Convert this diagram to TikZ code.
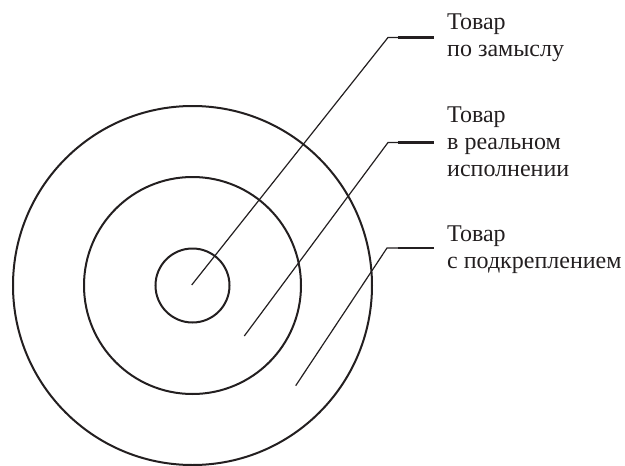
\documentclass[tikz,border=0pt]{standalone}
\usepackage{fontspec}
\setmainfont{Liberation Serif}
\definecolor{ink}{HTML}{231F20}
\begin{document}
\begin{tikzpicture}[x=1pt,y=-1pt,
  ring/.style={draw=ink,line width=2pt,circle,inner sep=0pt},
  lead/.style={draw=ink,line width=1.2pt,line join=miter},
  tick/.style={draw=ink,line width=2.2pt},
  caption/.style={anchor=base west,inner sep=0pt,align=left,text=ink,
    font=\fontsize{24}{26.8}\selectfont}]
  \useasboundingbox (0,0) rectangle (625,466);

  % three concentric rings
  \coordinate (c) at (192.5,285.5);
  \node[ring,minimum size=359pt] (outer) at (c) {};
  \node[ring,minimum size=217pt] (middle) at (c) {};
  \node[ring,minimum size=74pt] (inner) at (c) {};

  % leader lines: start inside a ring, bend, end in a short bold tick
  \coordinate (s1) at (191.7,285);
  \coordinate (b1) at (388,37.5);
  \coordinate (m1) at (398,37.5);
  \coordinate (e1) at (433.5,37.5);

  \coordinate (s2) at (244.3,336);
  \coordinate (b2) at (388,142.5);
  \coordinate (m2) at (398,142.5);
  \coordinate (e2) at (433.5,142.5);

  \coordinate (s3) at (295.7,385.7);
  \coordinate (b3) at (387,248);
  \coordinate (m3) at (398,248);
  \coordinate (e3) at (433.5,248);

  \foreach \i in {1,2,3}{
    \draw[lead] (s\i) -- (b\i) -- (e\i);
    \draw[tick] (m\i) -- (e\i);
  }

  % captions, placed by the baseline of their last line
  \node[caption] (l1) at (447,56.5) {Товар\\по замыслу};
  \node[caption] (l2) at (447,176) {Товар\\в реальном\\исполнении};
  \node[caption] (l3) at (447,268) {Товар\\с подкреплением};
\end{tikzpicture}
\end{document}
